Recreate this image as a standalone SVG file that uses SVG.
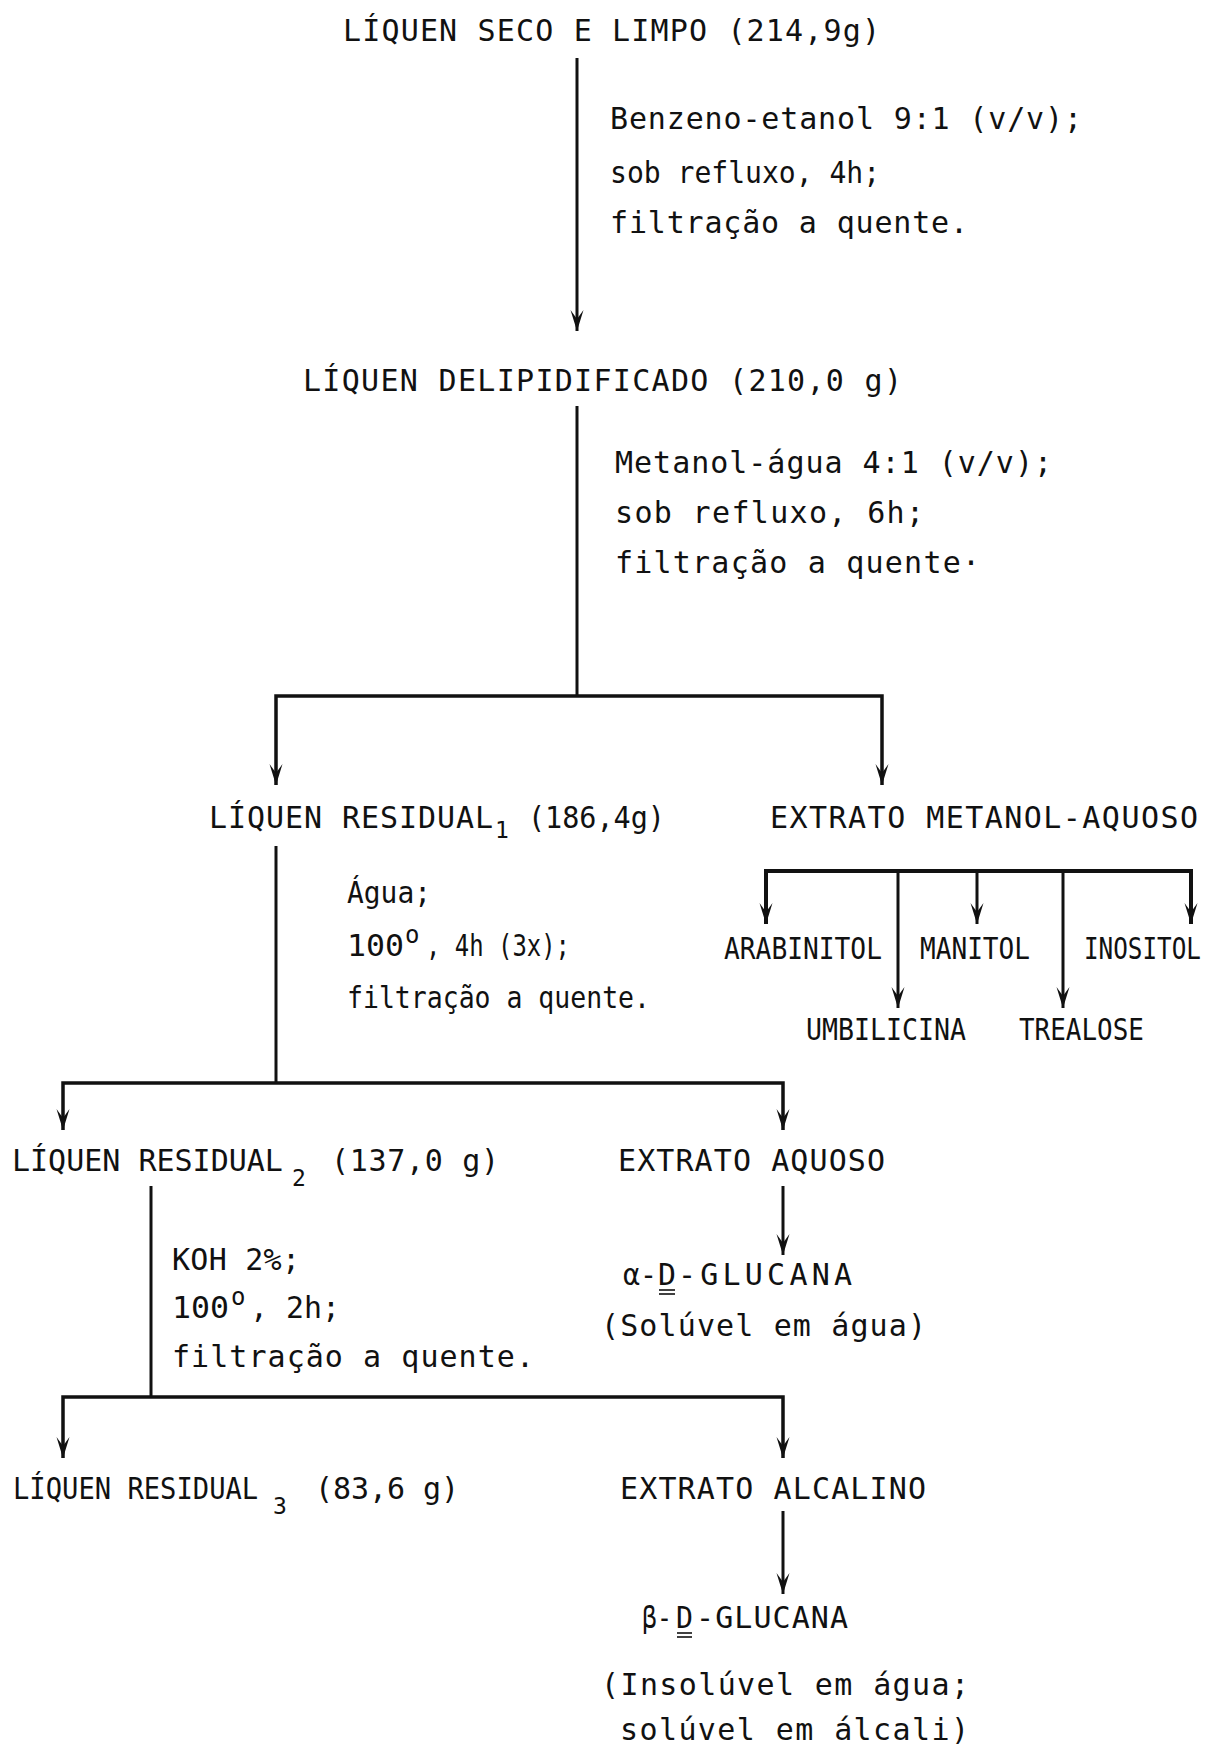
<svg xmlns="http://www.w3.org/2000/svg" width="1209" height="1745" viewBox="0 0 1209 1745">
<defs>
<style>
text{font-family:"DejaVu Sans Mono","Liberation Mono",monospace;font-size:30px;fill:#111;font-variant-ligatures:none;}
.sub{font-size:23px;}
.sup{font-size:24px;}
.ln{stroke:#111;stroke-width:3;fill:none;}
.bar{stroke:#111;stroke-width:3.5;fill:none;}
.u{stroke:#111;stroke-width:1.6;}
</style>
<marker id="ah" viewBox="-22 -8 23 16" refX="0" refY="0" markerWidth="23" markerHeight="16" markerUnits="userSpaceOnUse" orient="auto-start-reverse">
<path d="M0,0 L-21,-6.5 L-12,0 L-21,6.5 Z" fill="#111"/>
</marker>
</defs>
<rect width="1209" height="1745" fill="#fff"/>

<g id="connectors">
<line class="ln" x1="577" y1="58" x2="577" y2="331" marker-end="url(#ah)"/>
<line class="ln" x1="577" y1="406" x2="577" y2="696"/>
<polyline class="bar" points="276,785 276,696 882,696 882,785" marker-start="url(#ah)" marker-end="url(#ah)"/>
<line class="ln" x1="276" y1="846" x2="276" y2="1083"/>
<polyline class="bar" points="766,924 766,871 1191,871 1191,924" marker-start="url(#ah)" marker-end="url(#ah)" style="stroke-width:4"/>
<line class="ln" x1="898" y1="871" x2="898" y2="1008" marker-end="url(#ah)"/>
<line class="ln" x1="977" y1="871" x2="977" y2="924" marker-end="url(#ah)"/>
<line class="ln" x1="1063" y1="871" x2="1063" y2="1008" marker-end="url(#ah)"/>
<polyline class="bar" points="63,1130 63,1083 783,1083 783,1130" marker-start="url(#ah)" marker-end="url(#ah)"/>
<line class="ln" x1="783" y1="1186" x2="783" y2="1255" marker-end="url(#ah)"/>
<line class="ln" x1="151" y1="1186" x2="151" y2="1397"/>
<polyline class="bar" points="63,1458 63,1397 783,1397 783,1458" marker-start="url(#ah)" marker-end="url(#ah)"/>
<line class="ln" x1="783" y1="1511" x2="783" y2="1594" marker-end="url(#ah)"/>
</g>

<g id="n-liquen-seco">
<text x="343" y="41" textLength="537" lengthAdjust="spacing">LÍQUEN SECO E LIMPO (214,9g)</text>
</g>
<g id="cond-1">
<text x="610" y="129" textLength="472" lengthAdjust="spacing">Benzeno-etanol 9:1 (v/v);</text>
<text x="610" y="183" textLength="270" lengthAdjust="spacingAndGlyphs">sob refluxo, 4h;</text>
<text x="610" y="233" textLength="358" lengthAdjust="spacing">filtração a quente.</text>
</g>
<g id="n-liquen-delip">
<text x="303" y="391" textLength="599" lengthAdjust="spacing">LÍQUEN DELIPIDIFICADO (210,0 g)</text>
</g>
<g id="cond-2">
<text x="615" y="473" textLength="437" lengthAdjust="spacing">Metanol-água 4:1 (v/v);</text>
<text x="615" y="523" textLength="309" lengthAdjust="spacing">sob refluxo, 6h;</text>
<text x="615" y="573" textLength="365" lengthAdjust="spacing">filtração a quente·</text>
</g>
<g id="n-residual-1">
<text x="209" y="828" textLength="284" lengthAdjust="spacing">LÍQUEN RESIDUAL</text>
<text class="sub" x="495" y="838">1</text>
<text x="528" y="828" textLength="137" lengthAdjust="spacingAndGlyphs">(186,4g)</text>
</g>
<g id="n-extrato-ma">
<text x="770" y="828" textLength="428" lengthAdjust="spacing">EXTRATO METANOL-AQUOSO</text>
</g>
<g id="cond-3">
<text x="347" y="903" textLength="84" lengthAdjust="spacingAndGlyphs">Água;</text>
<text x="347" y="956" textLength="57" lengthAdjust="spacingAndGlyphs">100</text>
<text class="sup" x="405" y="943">o</text>
<text x="426" y="956" textLength="144" lengthAdjust="spacingAndGlyphs">, 4h (3x);</text>
<text x="347" y="1008" textLength="303" lengthAdjust="spacingAndGlyphs">filtração a quente.</text>
</g>
<g id="n-arabinitol"><text transform="translate(724,959) scale(0.875,1)">ARABINITOL</text></g>
<g id="n-manitol"><text transform="translate(920,959) scale(0.87,1)">MANITOL</text></g>
<g id="n-inositol"><text transform="translate(1084,959) scale(0.81,1)">INOSITOL</text></g>
<g id="n-umbilicina"><text transform="translate(806,1040) scale(0.886,1)">UMBILICINA</text></g>
<g id="n-trealose"><text transform="translate(1019,1040) scale(0.865,1)">TREALOSE</text></g>
<g id="n-residual-2">
<text x="12" y="1171">LÍQUEN RESIDUAL</text>
<text class="sub" x="292" y="1186">2</text>
<text x="331" y="1171" textLength="168" lengthAdjust="spacing">(137,0 g)</text>
</g>
<g id="n-extrato-aquoso">
<text x="618" y="1171" textLength="267" lengthAdjust="spacing">EXTRATO AQUOSO</text>
</g>
<g id="n-alfa-glucana">
<text x="623" y="1285" textLength="34" lengthAdjust="spacingAndGlyphs">α-</text>
<text x="658" y="1285" textLength="18" lengthAdjust="spacingAndGlyphs">D</text>
<line class="u" x1="659" y1="1290" x2="675" y2="1290"/>
<line class="u" x1="659" y1="1294" x2="675" y2="1294"/>
<text x="678" y="1285" textLength="174" lengthAdjust="spacing">-GLUCANA</text>
<text x="601" y="1336" textLength="325" lengthAdjust="spacing">(Solúvel em água)</text>
</g>
<g id="cond-4">
<text x="172" y="1270" textLength="128" lengthAdjust="spacing">KOH 2%;</text>
<text x="172" y="1318" textLength="57" lengthAdjust="spacingAndGlyphs">100</text>
<text class="sup" x="231" y="1305">o</text>
<text x="250" y="1318" textLength="90" lengthAdjust="spacingAndGlyphs">, 2h;</text>
<text x="172" y="1367" textLength="362" lengthAdjust="spacing">filtração a quente.</text>
</g>
<g id="n-residual-3">
<text transform="translate(13,1499) scale(0.905,1)">LÍQUEN RESIDUAL</text>
<text class="sub" x="273" y="1514">3</text>
<text x="315" y="1499" textLength="144" lengthAdjust="spacing">(83,6 g)</text>
</g>
<g id="n-extrato-alcalino">
<text x="620" y="1499" textLength="306" lengthAdjust="spacing">EXTRATO ALCALINO</text>
</g>
<g id="n-beta-glucana">
<text x="642" y="1628" textLength="30" lengthAdjust="spacingAndGlyphs">β-</text>
<text x="676" y="1628" textLength="17" lengthAdjust="spacingAndGlyphs">D</text>
<line class="u" x1="677" y1="1633" x2="692" y2="1633"/>
<line class="u" x1="677" y1="1637" x2="692" y2="1637"/>
<text x="696" y="1628" textLength="152" lengthAdjust="spacing">-GLUCANA</text>
<text x="601" y="1695" textLength="368" lengthAdjust="spacing">(Insolúvel em água;</text>
<text x="620" y="1740" textLength="349" lengthAdjust="spacing">solúvel em álcali)</text>
</g>
</svg>
